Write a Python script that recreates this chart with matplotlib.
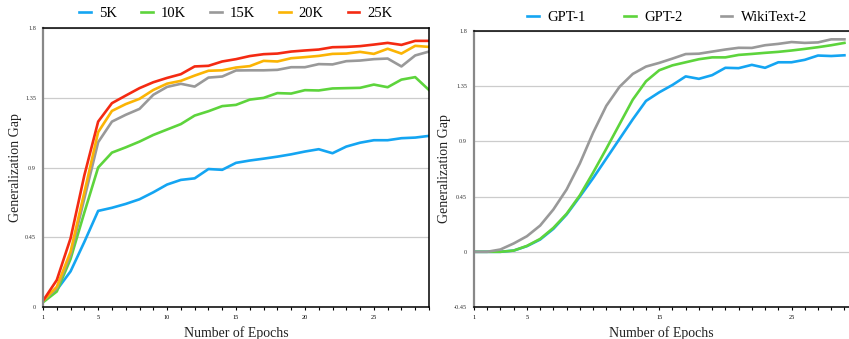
import matplotlib.pyplot as plt
import numpy as np
from matplotlib.ticker import MultipleLocator, FixedLocator

plt.rcParams['font.family'] = ['Liberation Serif', 'DejaVu Serif']

# left panel: training set size
epochs_left = np.arange(1, 30)
gap_5k = [0.04, 0.11, 0.23, 0.42, 0.62, 0.64, 0.665, 0.695, 0.74, 0.79,
          0.82, 0.83, 0.89, 0.885, 0.93, 0.945, 0.957, 0.97, 0.985, 1.003,
          1.018, 0.992, 1.035, 1.06, 1.076, 1.076, 1.089, 1.093, 1.104]
gap_10k = [0.03, 0.10, 0.31, 0.61, 0.90, 0.996, 1.03, 1.067, 1.11, 1.145,
           1.18, 1.235, 1.263, 1.296, 1.304, 1.338, 1.349, 1.38, 1.377, 1.399,
           1.397, 1.41, 1.412, 1.414, 1.435, 1.418, 1.467, 1.483, 1.40]
gap_15k = [0.04, 0.12, 0.336, 0.70, 1.063, 1.196, 1.24, 1.278, 1.369, 1.42,
           1.44, 1.422, 1.48, 1.487, 1.526, 1.527, 1.527, 1.53, 1.547, 1.547,
           1.567, 1.565, 1.586, 1.59, 1.599, 1.603, 1.552, 1.623, 1.648]
gap_20k = [0.04, 0.13, 0.357, 0.74, 1.128, 1.265, 1.309, 1.343, 1.40, 1.441,
           1.459, 1.493, 1.524, 1.527, 1.545, 1.554, 1.588, 1.584, 1.605, 1.612,
           1.62, 1.633, 1.635, 1.646, 1.633, 1.666, 1.635, 1.685, 1.678]
gap_25k = [0.04, 0.174, 0.443, 0.85, 1.196, 1.315, 1.364, 1.412, 1.45, 1.478,
           1.502, 1.552, 1.556, 1.584, 1.599, 1.619, 1.631, 1.635, 1.648, 1.655,
           1.661, 1.676, 1.678, 1.683, 1.693, 1.704, 1.691, 1.717, 1.717]
labels_left = ['5K', '10K', '15K', '20K', '25K']

# right panel: data source
epochs_right = np.arange(1, 30)
gap_gpt1 = [0.0, 0.0, 0.0, 0.01, 0.046, 0.10, 0.187, 0.304, 0.45, 0.60,
            0.76, 0.92, 1.08, 1.23, 1.30, 1.36, 1.43, 1.41, 1.44, 1.50,
            1.497, 1.524, 1.50, 1.545, 1.545, 1.565, 1.60, 1.596, 1.602]
gap_gpt2 = [0.0, 0.0, 0.0, 0.01, 0.048, 0.105, 0.195, 0.31, 0.46, 0.645,
            0.84, 1.04, 1.24, 1.39, 1.48, 1.52, 1.545, 1.57, 1.585, 1.585,
            1.605, 1.613, 1.622, 1.63, 1.641, 1.654, 1.668, 1.684, 1.703]
gap_wiki = [0.0, 0.0, 0.019, 0.068, 0.127, 0.214, 0.345, 0.508, 0.72, 0.97,
            1.19, 1.345, 1.45, 1.51, 1.54, 1.575, 1.612, 1.615, 1.632, 1.649,
            1.663, 1.662, 1.684, 1.695, 1.71, 1.703, 1.707, 1.732, 1.732]
labels_right = ['GPT-1', 'GPT-2', 'WikiText-2']

blue = '#14A5F2'
green = '#5DD43C'
gray = '#999999'
orange = '#FBB404'
red = '#F42A12'
lw = 1.9


def style_axes(ax, ymin, ymax, xmax, xmajor):
    ax.set_ylim(ymin, ymax)
    ax.set_xlim(1, xmax)
    ax.xaxis.set_major_locator(FixedLocator(xmajor))
    ax.xaxis.set_minor_locator(MultipleLocator(1))
    ax.yaxis.grid(True, color='#cccccc', linewidth=0.9)
    ax.set_axisbelow(True)
    ax.tick_params(axis='y', length=0, labelsize=4.5, pad=5, colors='#333333')
    ax.tick_params(axis='x', which='both', direction='out', length=2.5, width=0.8,
                   labelsize=4.5, pad=3, colors='black')
    ax.spines['left'].set_color('#888888')
    ax.spines['left'].set_linewidth(1.6)
    ax.spines['bottom'].set_linewidth(1.1)
    ax.spines['top'].set_linewidth(1.1)
    ax.set_xlabel('Number of Epochs', fontsize=10, labelpad=5, color='#222222')
    ax.set_ylabel('Generalization Gap', fontsize=10, labelpad=2, color='#222222')


fig = plt.figure(figsize=(8.49, 3.39), dpi=100)
ax1 = fig.add_axes([43 / 849, 1 - 307 / 339, 386 / 849, 279 / 339])
ax2 = fig.add_axes([474 / 849, 1 - 307 / 339, 375 / 849, 276 / 339])

for vals, c, lab in zip([gap_5k, gap_10k, gap_15k, gap_20k, gap_25k],
                        [blue, green, gray, orange, red], labels_left):
    ax1.plot(epochs_left, vals, color=c, linewidth=lw, label=lab)
style_axes(ax1, 0, 1.8, 29, [1, 5, 10, 15, 20, 25])
ax1.set_yticks([0, 0.45, 0.9, 1.35, 1.8])
ax1.set_yticklabels(['0', '0.45', '0.9', '1.35', '1.8'])
ax1.spines['right'].set_linewidth(1.1)
ax1.legend(loc='lower center', bbox_to_anchor=(0.5, 1.0), ncol=5, frameon=False,
           fontsize=10.5, handlelength=0.8, columnspacing=1.65, handletextpad=0.55,
           borderaxespad=0.15)

for vals, c, lab in zip([gap_gpt1, gap_gpt2, gap_wiki], [blue, green, gray], labels_right):
    ax2.plot(epochs_right, vals, color=c, linewidth=lw, label=lab)
style_axes(ax2, -0.45, 1.8, 1 + 375 / 13.23, [1, 5, 15, 25])
ax2.set_yticks([-0.45, 0, 0.45, 0.9, 1.35, 1.8])
ax2.set_yticklabels(['-0.45', '0', '0.45', '0.9', '1.35', '1.8'])
ax2.spines['right'].set_visible(False)
ax2.legend(loc='lower center', bbox_to_anchor=(0.515, 1.0), ncol=3, frameon=False,
           fontsize=10.5, handlelength=0.8, columnspacing=2.6, handletextpad=0.6,
           borderaxespad=0.1)

plt.savefig('out.png', dpi=100)
